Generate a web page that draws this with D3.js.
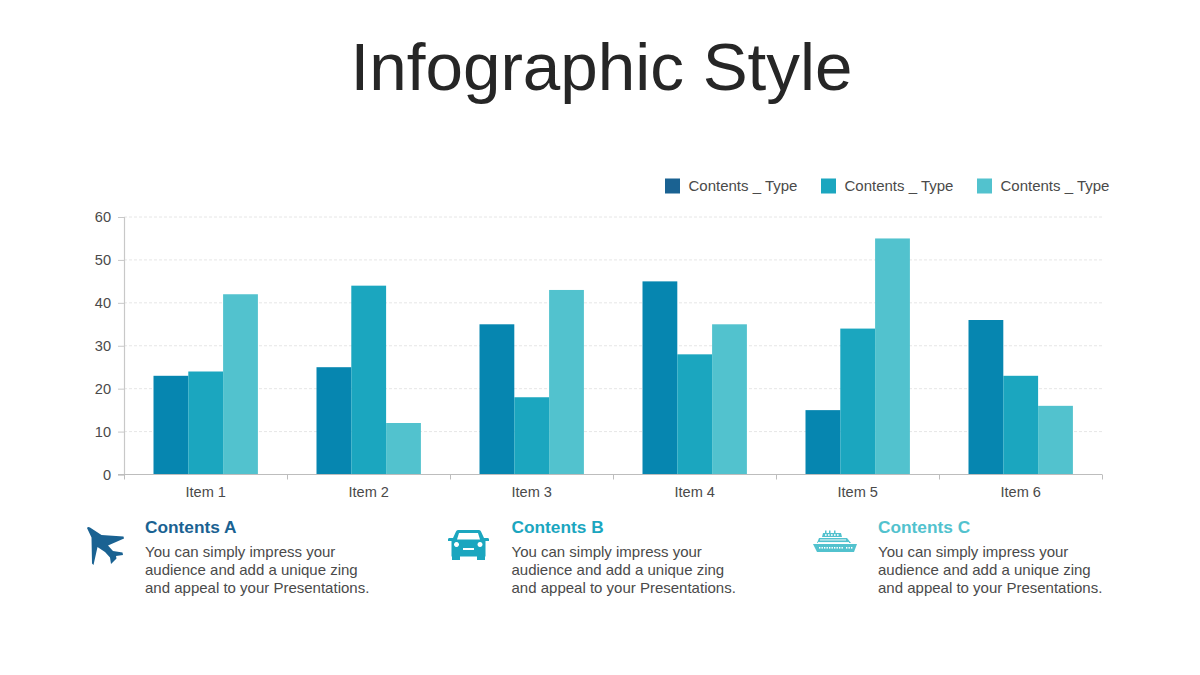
<!DOCTYPE html>
<html><head><meta charset="utf-8">
<script src="https://cdn.jsdelivr.net/npm/d3@7"></script>
<style>
html,body{margin:0;padding:0;background:#fff}
svg{display:block}
text{font-family:"Liberation Sans",Arial,sans-serif}
</style></head><body>
<svg id="c" width="1200" height="675"></svg>
<script>
const categories = ["Item 1","Item 2","Item 3","Item 4","Item 5","Item 6"];
const series1 = [23,25,35,45,15,36];
const series2 = [24,44,18,28,34,23];
const series3 = [42,12,43,35,55,16];
const legendLabels = ["Contents _ Type","Contents _ Type","Contents _ Type"];
const barColors = ["#0686b0","#1ba6bf","#52c2ce"];
const legendColors = ["#1a6292","#1ba6bf","#52c2ce"];
const yTicks = [0,10,20,30,40,50,60];
const headings = ["Contents A","Contents B","Contents C"];
const headingColors = ["#1a6292","#1ba6bf","#52c2ce"];
const bodyLines = ["You can simply impress your","audience and add a unique zing","and appeal to your Presentations."];

const svg = d3.select("#c");
svg.append("text").attr("x",601.5).attr("y",90).attr("text-anchor","middle")
  .attr("font-size",67.4).attr("fill","#262626").text("Infographic Style");

const x0 = d3.scaleBand().domain(categories).range([124.2,1102.2]).padding(0);
const allSeries = [series1,series2,series3];
const groupW = 104.4;
const x1 = d3.scaleBand().domain([0,1,2])
  .range([(x0.bandwidth()-groupW)/2,(x0.bandwidth()+groupW)/2]);
const y = d3.scaleLinear().domain([0,60]).range([474.5,217]);

// gridlines
svg.append("g").selectAll("line").data(yTicks.filter(d=>d>0)).join("line")
  .attr("x1",124).attr("x2",1103).attr("y1",d=>y(d)).attr("y2",d=>y(d))
  .attr("stroke","#e6e6e6").attr("stroke-width",1).attr("stroke-dasharray","3 2");

// bars
categories.forEach((c,i)=>{
  allSeries.forEach((s,k)=>{
    svg.append("rect").attr("x",x0(c)+x1(k)).attr("width",x1.bandwidth())
      .attr("y",y(s[i])).attr("height",y(0)-y(s[i])).attr("fill",barColors[k]);
  });
});

// y axis
const yAxis = d3.axisLeft(y).tickValues(yTicks).tickSize(6).tickPadding(7);
const gy = svg.append("g").attr("transform","translate(124,0)").call(yAxis);
gy.selectAll("path").attr("stroke","#c8c8c8").attr("stroke-width",1.2);
gy.selectAll("line").attr("stroke","#c8c8c8");
gy.selectAll("text").attr("font-size",14.6).attr("fill","#4a4a4a")
  .style("font-family",'"Liberation Sans",Arial,sans-serif');

// x axis
const gx = svg.append("g").attr("transform","translate(0,474.5)")
  .call(d3.axisBottom(x0).tickSize(0).tickPadding(12.5));
gx.selectAll("path").remove();
gx.append("line").attr("x1",118).attr("x2",1102).attr("stroke","#bdbdbd").attr("stroke-width",1.2);
gx.selectAll("g.tick line").remove();
gx.selectAll("g.tick text").attr("font-size",14.6).attr("fill","#4a4a4a")
  .style("font-family",'"Liberation Sans",Arial,sans-serif');
d3.range(0,categories.length+1).forEach(i=>{
  const px = 124.5 + i*x0.step();
  gx.append("line").attr("x1",px).attr("x2",px).attr("y1",0).attr("y2",5)
    .attr("stroke","#bdbdbd").attr("stroke-width",1);
});

// legend
const legendX = [665,821,977];
legendLabels.forEach((l,i)=>{
  svg.append("rect").attr("x",legendX[i]).attr("y",178.5).attr("width",15).attr("height",15).attr("fill",legendColors[i]);
  svg.append("text").attr("x",legendX[i]+23.5).attr("y",191).attr("font-size",15).attr("fill","#4a4a4a").text(l);
});

// info blocks
const blockX = [145,511.5,878];
headings.forEach((h,i)=>{
  svg.append("text").attr("x",blockX[i]).attr("y",533).attr("font-size",17.3).attr("font-weight","bold")
    .attr("fill",headingColors[i]).text(h);
  bodyLines.forEach((t,j)=>{
    svg.append("text").attr("x",blockX[i]).attr("y",557+j*18.2).attr("font-size",15).attr("fill","#4a4a4a").text(t);
  });
});

// plane icon
svg.append("path").attr("fill",headingColors[0]).attr("d",
 "M87 528 Q88 526.5 90 527.5 L101.5 535 L123.5 536.5 L124 538.5 L108 545.5 L113 551 L122.5 552.5 L123 555 L116 556 L116.5 558.5 L111 564 L110 557.5 L105 552 L97.5 547 L93.5 565 L92 563.5 L91.5 537.5 Z");

// car icon
svg.append("g").attr("transform","translate(448,529)").append("path")
 .attr("fill",headingColors[1]).attr("fill-rule","evenodd").attr("d",
 "M10 1 H31 Q32.5 1 33 2.5 L36 9 H40 Q41 9 41 10.5 V12 H37.5 V27.5 H37 V31 H29 V27.5 H12 V31 H4 V27.5 H3.5 V12 H0 V10.5 Q0 9 1 9 H5 L8 2.5 Q8.5 1 10 1 Z M11 4 L9 10.5 H32 L30 4 Z M8.5 13 a2.5 2.5 0 1 0 0.01 0 Z M32 13 a2.5 2.5 0 1 0 0.01 0 Z M15 19 V21 H26 V19 Z");

// ship icon
const ship = svg.append("g").attr("transform","translate(813,530)").attr("fill",headingColors[2]);
ship.append("path").attr("d","M0 14 H44 L41 22 H4 Z");
ship.append("path").attr("d","M4 13 L6 8 H34 L38 13 Z");
ship.append("path").attr("d","M9 7 L10 3 H12 V0.5 H13.5 V3 H16 V0.5 H17.5 V3 H21 V0.5 H22.5 V3 H28 L29 7 Z");
ship.selectAll("rect.a").data(d3.range(10)).join("rect").attr("class","a")
  .attr("x",d=>6+d*2.5).attr("y",17).attr("width",1.4).attr("height",1.6).attr("fill","#fff");
ship.selectAll("rect.b").data(d3.range(3)).join("rect").attr("class","b")
  .attr("x",d=>33+d*2.5).attr("y",17).attr("width",1.4).attr("height",1.6).attr("fill","#fff");
ship.selectAll("rect.c").data(d3.range(5)).join("rect").attr("class","c")
  .attr("x",d=>12+d*3).attr("y",4.2).attr("width",1.6).attr("height",1.6).attr("fill","#fff");
ship.append("rect").attr("x",7).attr("y",9.5).attr("width",26).attr("height",0.9).attr("fill","#fff");
ship.append("rect").attr("x",5).attr("y",12).attr("width",31).attr("height",0.9).attr("fill","#fff");
</script>
</body></html>
